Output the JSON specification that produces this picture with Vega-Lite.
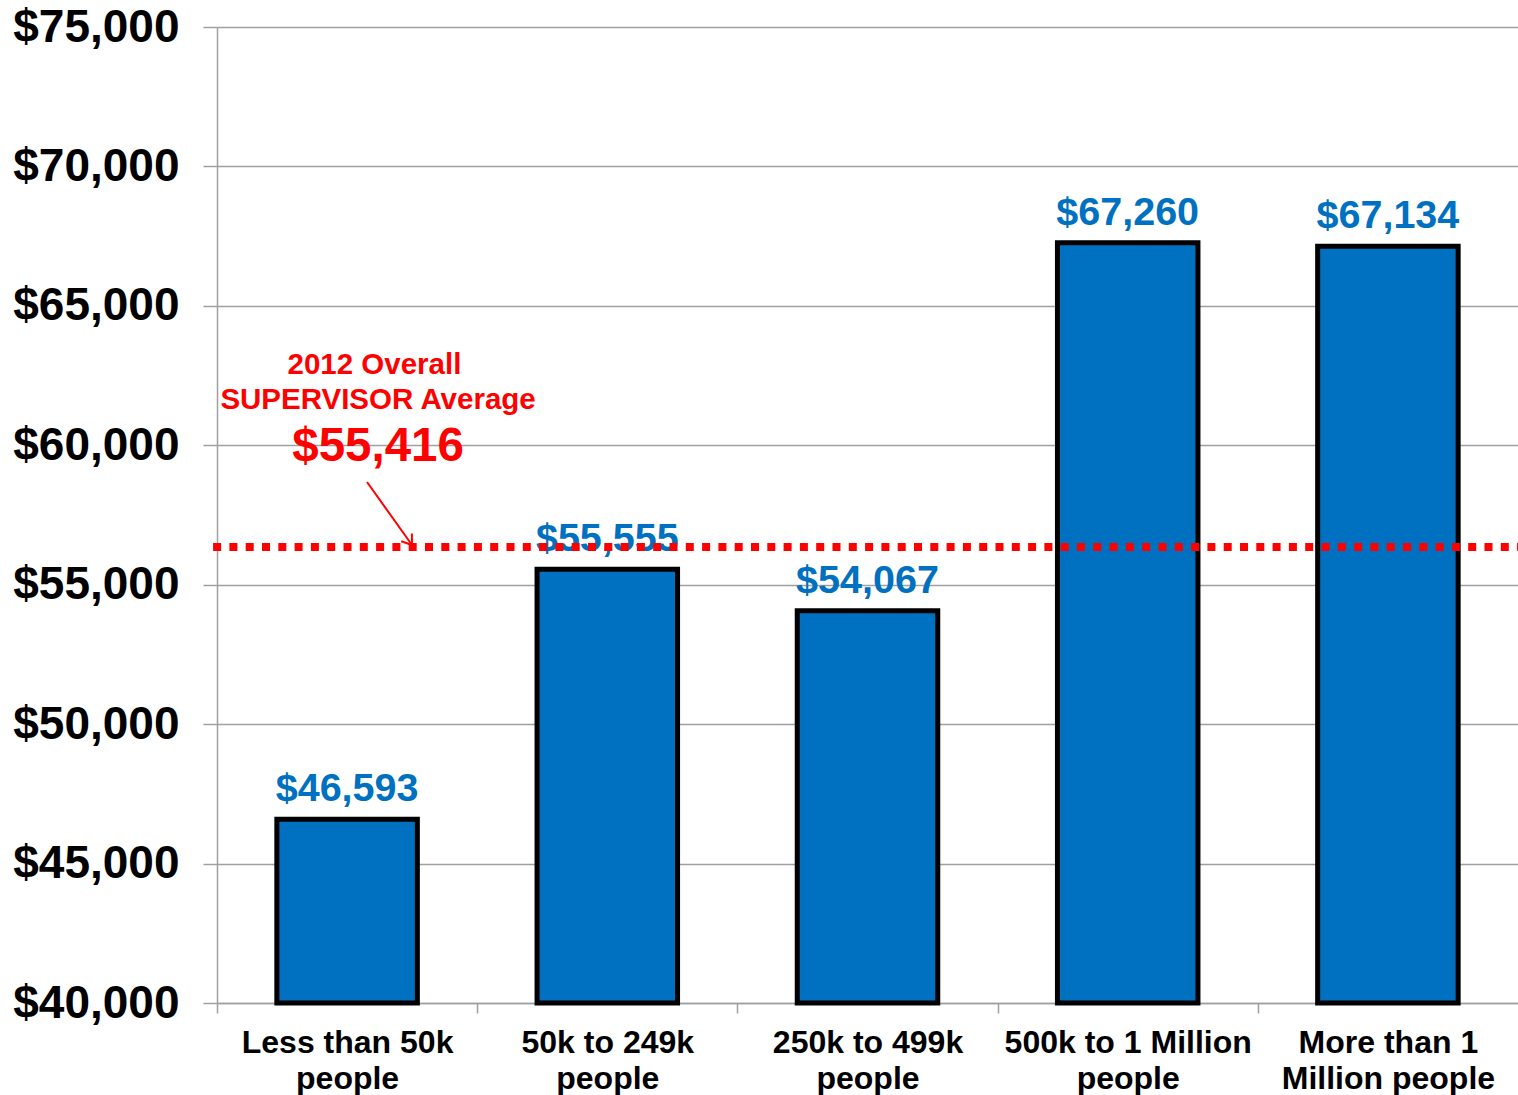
{
  "$schema": "https://vega.github.io/schema/vega-lite/v6.json",
  "width": 1301,
  "height": 976,
  "autosize": {"type": "none"},
  "padding": {"left": 217, "top": 27, "right": 0, "bottom": 92},
  "background": "white",
  "config": {"view": {"stroke": null}, "font": "Liberation Sans"},
  "layer": [
    {
      "data": {"values": [
        {"group": "Less than 50k people", "salary": 46593},
        {"group": "50k to 249k people", "salary": 55555},
        {"group": "250k to 499k people", "salary": 54067},
        {"group": "500k to 1 Million people", "salary": 67260},
        {"group": "More than 1 Million people", "salary": 67134}
      ]},
      "encoding": {
        "x": {
          "field": "group", "type": "nominal", "sort": null,
          "scale": {"paddingInner": 0.46, "paddingOuter": 0.23},
          "axis": {
            "title": null, "labelAngle": 0, "labelFontSize": 32, "labelFontWeight": "bold",
            "labelColor": "black", "labelLineHeight": 36, "labelBaseline": "top", "labelPadding": 14,
            "labelLimit": 0, "labelOverlap": false,
            "tickOffset": -130.1, "labelOffset": 130.1, "tickSize": 10, "tickColor": "#A0A0A0", "tickWidth": 1.5,
            "domainColor": "#A0A0A0", "domainWidth": 1.5, "grid": false,
            "labelExpr": "datum.value == 'Less than 50k people' ? ['Less than 50k','people'] : datum.value == '50k to 249k people' ? ['50k to 249k','people'] : datum.value == '250k to 499k people' ? ['250k to 499k','people'] : datum.value == '500k to 1 Million people' ? ['500k to 1 Million','people'] : datum.value == 'More than 1 Million people' ? ['More than 1','Million people'] : ''"
          }
        },
        "y": {
          "field": "salary", "type": "quantitative",
          "scale": {"domain": [40000, 75000], "zero": false, "nice": false},
          "axis": {
            "title": null, "values": [40000, 45000, 50000, 55000, 60000, 65000, 70000, 75000],
            "format": "$,.0f", "labelFontSize": 46, "labelFontWeight": "bold", "labelColor": "black",
            "labelPadding": 24, "tickSize": 14, "tickColor": "#A0A0A0", "tickWidth": 1.5,
            "grid": true, "gridColor": "#A0A0A0", "gridWidth": 1.5,
            "domainColor": "#A0A0A0", "domainWidth": 1.5
          }
        }
      },
      "layer": [
        {
          "mark": {"type": "bar", "color": "#0070C0", "stroke": "black", "strokeWidth": 5},
          "encoding": {"y2": {"datum": 40000}}
        },
        {
          "mark": {"type": "text", "color": "#0070C0", "fontSize": 39.5, "fontWeight": "bold", "baseline": "bottom", "dy": -10},
          "encoding": {"text": {"field": "salary", "type": "quantitative", "format": "$,.0f"}}
        }
      ]
    },
    {
      "data": {"values": [{"start": -0.015, "end": 5, "avg": 56350}]},
      "mark": {"type": "rule", "color": "#FF0000", "strokeWidth": 8, "strokeDash": [8, 8.3]},
      "encoding": {
        "x": {"field": "start", "type": "quantitative", "scale": {"domain": [0, 5], "nice": false, "zero": false}, "axis": null},
        "x2": {"field": "end"},
        "y": {"field": "avg", "type": "quantitative"}
      }
    },
    {
      "data": {"values": [
        {"pos": 0.605, "val": 62878, "label": "2012 Overall"},
        {"pos": 0.619, "val": 61624, "label": "SUPERVISOR Average"}
      ]},
      "mark": {"type": "text", "color": "#FF0000", "fontSize": 29.5, "fontWeight": "bold", "baseline": "middle"},
      "encoding": {
        "x": {"field": "pos", "type": "quantitative", "scale": {"domain": [0, 5], "nice": false, "zero": false}, "axis": null},
        "y": {"field": "val", "type": "quantitative"},
        "text": {"field": "label"}
      }
    },
    {
      "data": {"values": [{"pos": 0.619, "val": 59938, "label": "$55,416"}]},
      "mark": {"type": "text", "color": "#FF0000", "fontSize": 47.5, "fontWeight": "bold", "baseline": "middle"},
      "encoding": {
        "x": {"field": "pos", "type": "quantitative", "scale": {"domain": [0, 5], "nice": false, "zero": false}, "axis": null},
        "y": {"field": "val", "type": "quantitative"},
        "text": {"field": "label"}
      }
    },
    {
      "data": {"values": [{"pos": 0.5765, "val": 58683}, {"pos": 0.7494, "val": 56424}]},
      "mark": {"type": "line", "color": "#FF0000", "strokeWidth": 2},
      "encoding": {
        "x": {"field": "pos", "type": "quantitative", "scale": {"domain": [0, 5], "nice": false, "zero": false}, "axis": null},
        "y": {"field": "val", "type": "quantitative"}
      }
    },
    {
      "data": {"values": [{"pos": 0.7494, "val": 56424}]},
      "mark": {"type": "point", "shape": "M-1,-0.7L0,0L-1,0.7", "filled": false, "color": "#FF0000", "strokeWidth": 2, "size": 350, "angle": 54.5, "opacity": 1},
      "encoding": {
        "x": {"field": "pos", "type": "quantitative", "scale": {"domain": [0, 5], "nice": false, "zero": false}, "axis": null},
        "y": {"field": "val", "type": "quantitative"}
      }
    }
  ],
  "resolve": {"scale": {"x": "independent"}}
}
